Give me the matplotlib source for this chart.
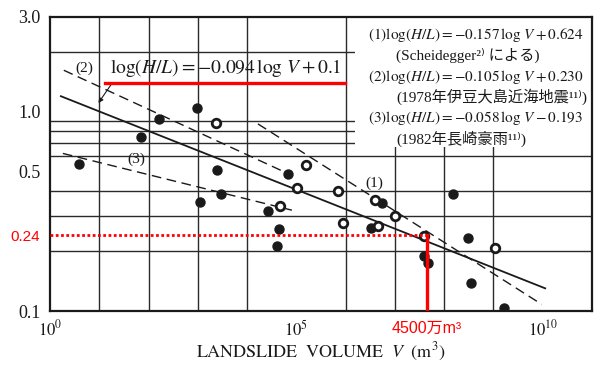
import numpy as np
import matplotlib.pyplot as plt
from matplotlib.patches import Rectangle
from matplotlib.ticker import NullFormatter

plt.rcParams['mathtext.fontset'] = 'stix'
plt.rcParams['font.family'] = ['Liberation Serif', 'Noto Sans CJK JP', 'DejaVu Sans']

INK = '#1a1a1a'

# 観測点: log10(V) と H/L
filled_logv = [2.98, 2.21, 1.85, 0.58, 3.39, 3.47, 3.04, 4.84, 4.43, 4.65,
               4.61, 6.74, 6.52, 7.59, 7.67, 8.18, 8.49, 8.54, 9.21]
filled_hl = [1.05, 0.926, 0.75, 0.55, 0.511, 0.386, 0.352, 0.49, 0.318, 0.257,
             0.213, 0.35, 0.26, 0.19, 0.174, 0.387, 0.234, 0.138, 0.104]
open_logv = [3.36, 5.19, 5.01, 5.84, 4.67, 5.94, 6.59, 7.01, 6.65, 7.60, 9.04]
open_hl = [0.884, 0.541, 0.414, 0.403, 0.338, 0.278, 0.362, 0.299, 0.268, 0.237, 0.207]

# 直線の両端
solid_logv = [0.22, 10.05]
solid_hl = [1.20, 0.130]
line1_logv = [4.22, 9.98]
line1_hl = [0.871, 0.108]
line2_logv = [0.28, 4.87]
line2_hl = [1.62, 0.485]
line3_logv = [0.26, 4.91]
line3_hl = [0.619, 0.321]

# 赤い注記
red_v = 4.5e7
red_hl = 0.24

# 目盛
x_grid = [1e1, 1e2, 1e3, 1e4, 1e5, 1e6, 1e7, 1e8, 1e9, 1e10]
y_grid = [0.2, 0.3, 0.4, 0.5, 0.6, 0.7, 0.8, 0.9, 1.0, 2.0]
x_ticks = [1, 1e5, 1e10]
x_labels = ['$10^{0}$', '$10^{5}$', '$10^{10}$']
y_ticks = [0.1, 0.24, 0.5, 1.0, 3.0]
y_labels = ['0.1', '0.24', '0.5', '1.0', '3.0']

fig = plt.figure(figsize=(5.94, 3.71), dpi=100)
ax = fig.add_axes([0.0842, 0.1617, 0.9124, 0.7925])
ax.set_xscale('log')
ax.set_yscale('log')
ax.set_xlim(1, 1e11)
ax.set_ylim(0.1, 3.0)

ax.set_xticks(x_ticks)
ax.set_xticklabels(x_labels)
ax.set_yticks(y_ticks)
ax.set_yticklabels(y_labels)
ax.set_xticks(x_grid, minor=True)
ax.set_yticks(y_grid, minor=True)
ax.xaxis.set_minor_formatter(NullFormatter())
ax.yaxis.set_minor_formatter(NullFormatter())
ax.tick_params(which='both', length=0)
ax.tick_params(axis='x', pad=6, labelsize=12, colors=INK)
ax.tick_params(axis='y', pad=7, labelsize=13, colors=INK)
ax.grid(False)
ax.grid(True, which='minor', color='#2a2a2a', lw=1.0)

for lab in ax.get_yticklabels():
    if lab.get_text() == '0.24':
        lab.set_color('red')
        lab.set_family(['Liberation Sans', 'DejaVu Sans'])
        lab.set_fontsize(11)

for sp in ax.spines.values():
    sp.set_linewidth(1.6)
    sp.set_color(INK)

# 凡例部分の白地
ax.add_patch(Rectangle((0.563, 0.558), 0.437, 0.442, transform=ax.transAxes,
                       facecolor='white', edgecolor='none', zorder=1.8))

ax.plot(np.power(10, solid_logv), solid_hl, color=INK, lw=1.3, zorder=2)
for lv, hl in [(line1_logv, line1_hl), (line2_logv, line2_hl), (line3_logv, line3_hl)]:
    ax.plot(np.power(10, lv), hl, color=INK, lw=1.0, dashes=(7, 4), zorder=2)

ax.scatter(np.power(10, filled_logv), filled_hl, s=42, color=INK, zorder=3)
ax.scatter(np.power(10, open_logv), open_hl, s=38, facecolor='white',
           edgecolor=INK, linewidth=2.0, zorder=3)

# 赤線
ax.plot([1, red_v], [red_hl, red_hl], color='red', lw=2.0, ls=(0, (1, 0.9)), zorder=4)
ax.plot([red_v, red_v], [0.1, red_hl], color='red', lw=2.4, zorder=4)
ax.plot([0.1015, 0.544], [0.7755, 0.7755], transform=ax.transAxes,
        color='red', lw=2.4, zorder=4)
ax.text(red_v, -0.035, '4500万m³', transform=ax.get_xaxis_transform(),
        ha='center', va='top', color='red', fontsize=11.5,
        family=['Liberation Sans', 'Noto Sans CJK SC'])

# 式の注記
ax.text(0.111, 0.827, r'$\log(H/L) = -0.094\,\log\,V + 0.1$', transform=ax.transAxes,
        ha='left', va='center', fontsize=14, color=INK, zorder=5)
ax.annotate('', xy=(10**0.95, 1.08), xytext=(10**1.28, 1.42),
            arrowprops=dict(arrowstyle='-|>', color=INK, lw=0.8, mutation_scale=7))
ax.text(0.0627, 0.827, '(2)', transform=ax.transAxes, ha='center', va='center',
        fontsize=11, color=INK)
ax.text(0.159, 0.517, '(3)', transform=ax.transAxes, ha='center', va='center',
        fontsize=11, color=INK)
ax.text(0.598, 0.435, '(1)', transform=ax.transAxes, ha='center', va='center',
        fontsize=11, color=INK)

legend_lines = [
    (0.586, 0.939, r'$(1)\log(H/L) = -0.157\,\log\,V + 0.624$'),
    (0.639, 0.870, '(Scheidegger²⁾ による)'),
    (0.586, 0.796, r'$(2)\log(H/L) = -0.105\,\log\,V + 0.230$'),
    (0.639, 0.728, '(1978年伊豆大島近海地震¹¹⁾)'),
    (0.586, 0.656, r'$(3)\log(H/L) = -0.058\,\log\,V - 0.193$'),
    (0.639, 0.585, '(1982年長崎豪雨¹¹⁾)'),
]
for x, y, s in legend_lines:
    ax.text(x, y, s, transform=ax.transAxes, ha='left', va='center',
            fontsize=11, color=INK, zorder=5)

ax.set_xlabel(r'$\mathrm{LANDSLIDE\ \ VOLUME}\ \ V\ \ (\mathrm{m}^3)$',
              fontsize=13, color=INK, labelpad=1)

fig.savefig('out.png', dpi=100)
